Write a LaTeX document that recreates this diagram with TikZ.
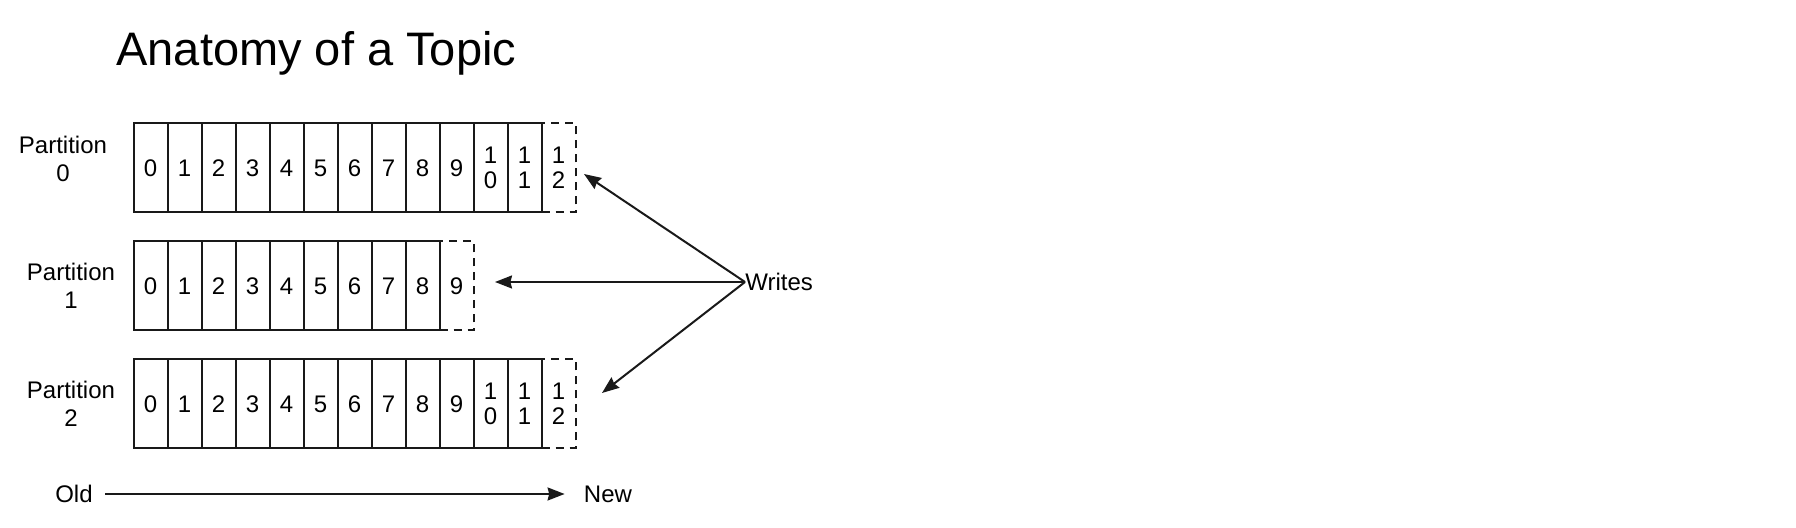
\documentclass[tikz,border=0pt]{standalone}
\usepackage{fontspec}
\setmainfont{Liberation Sans}
\usepackage{tikz}
\usetikzlibrary{arrows.meta,positioning,calc}

\begin{document}
\begin{tikzpicture}[
        x=0.5pt, y=-0.5pt,
        cell/.style={
            rectangle,
            draw=black!90,
            line width=1pt,
            minimum width=17pt,
            minimum height=44.5pt,
            inner sep=0pt,
            align=center,
            font=\fontsize{12}{12.6}\selectfont
        },
        newcell/.style={
            cell,
            dash pattern=on 4pt off 3pt
        },
        partlabel/.style={
            align=center,
            inner sep=0pt,
            font=\fontsize{12}{14.3}\selectfont
        },
        txt/.style={
            inner sep=0pt,
            font=\fontsize{12}{14.3}\selectfont
        },
        writearrow/.style={
            -{Stealth[length=8.5pt,width=6.5pt,inset=0.8pt]},
            line width=1pt,
            draw=black!90
        }
    ]
        \useasboundingbox (0,0) rectangle (1796,528);

        % Title
        \node[anchor=base west, inner sep=0pt, font=\fontsize{23.5}{28}\selectfont] (title) at (116, 66) {Anatomy of a Topic};

        % Partition labels
        \node[partlabel] (part0) at (63, 159) {Partition\\0};
        \node[partlabel] (part1) at (71, 286) {Partition\\1};
        \node[partlabel] (part2) at (71, 404) {Partition\\2};

        % Partition 0
        \foreach \i/\t in {0/0,1/1,2/2,3/3,4/4,5/5,6/6,7/7,8/8,9/9,10/{1\\0},11/{1\\1}}
            \node[cell] (p0-\i) at ({150.5+34*\i}, 168) {\t};
        \node[newcell] (p0-12) at ({150.5+34*12}, 168) {1\\2};

        % Partition 1
        \foreach \i in {0,...,8}
            \node[cell] (p1-\i) at ({150.5+34*\i}, 286) {\i};
        \node[newcell] (p1-9) at ({150.5+34*9}, 286) {9};

        % Partition 2
        \foreach \i/\t in {0/0,1/1,2/2,3/3,4/4,5/5,6/6,7/7,8/8,9/9,10/{1\\0},11/{1\\1}}
            \node[cell] (p2-\i) at ({150.5+34*\i}, 404) {\t};
        \node[newcell] (p2-12) at ({150.5+34*12}, 404) {1\\2};

        % Writes
        \node[txt, anchor=west] (writes) at (745, 282) {Writes};
        \coordinate (w0) at (584, 174);
        \coordinate (w1) at (495, 282);
        \coordinate (w2) at (602, 393);
        \draw[writearrow] (writes.west) -- (w0);
        \draw[writearrow] (writes.west) -- (w1);
        \draw[writearrow] (writes.west) -- (w2);

        % Old to new
        \node[txt] (old) at (74, 494) {Old};
        \node[txt] (new) at (608, 494) {New};
        \draw[writearrow, shorten <=6pt, shorten >=9.5pt] (old) -- (new);
    \end{tikzpicture}
\end{document}
